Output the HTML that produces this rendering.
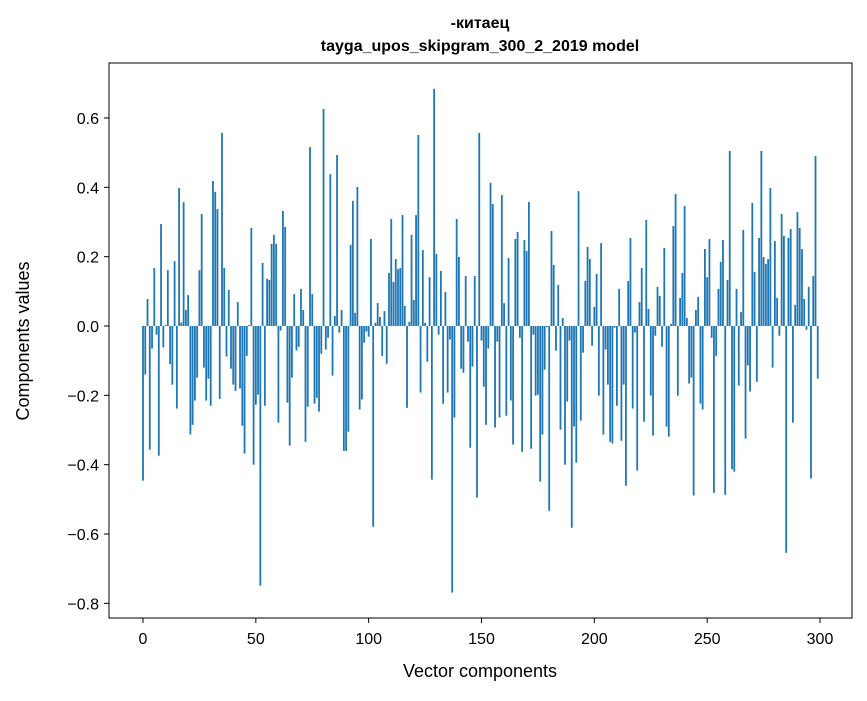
<!DOCTYPE html>
<html><head><meta charset="utf-8"><style>
body{margin:0;background:#fff;}
svg text{font-family:"Liberation Sans","DejaVu Sans",sans-serif;fill:#000;}
</style></head><body>
<svg id="chart" width="867" height="696" viewBox="0 0 867 696" xmlns="http://www.w3.org/2000/svg">
<rect width="867" height="696" fill="#fff"/>
<text x="480" y="28" text-anchor="middle" font-size="16" font-weight="bold">-китаец</text>
<text x="480" y="51" text-anchor="middle" font-size="16" font-weight="bold">tayga_upos_skipgram_300_2_2019 model</text>
<g id="bars"></g>
<g id="xticks"></g>
<g id="yticks"></g>
<rect x="109" y="63" width="743" height="555" fill="none" stroke="#000" stroke-width="1"/>
<text x="480" y="677" text-anchor="middle" font-size="18">Vector components</text>
<text transform="translate(29,341) rotate(-90)" text-anchor="middle" font-size="18">Components values</text>
</svg>
<script>
const values = [
-0.446,-0.14,0.078,-0.357,-0.065,0.167,-0.025,-0.374,0.294,-0.062,
0.003,0.161,-0.11,-0.169,0.187,-0.238,0.398,0.01,0.357,0.046,
0.089,-0.313,-0.285,-0.215,-0.149,0.161,0.323,-0.12,-0.215,-0.152,
-0.23,0.418,0.387,0.337,-0.21,0.557,0.167,-0.088,0.104,-0.123,
-0.169,-0.187,0.069,-0.18,-0.288,-0.368,-0.086,0.003,0.283,-0.4,
-0.227,-0.198,-0.749,0.182,-0.23,0.136,0.133,0.237,0.263,0.237,
-0.279,-0.013,0.332,0.286,-0.221,-0.345,-0.149,0.092,-0.071,-0.06,
0.107,0.046,-0.334,-0.233,0.516,0.092,-0.224,-0.207,-0.247,-0.08,
0.626,-0.068,-0.034,0.438,-0.143,0.029,0.493,-0.019,0.046,-0.36,
-0.36,-0.305,0.234,0.361,0.038,0.401,-0.241,-0.212,-0.048,-0.016,
-0.031,0.251,-0.579,0.009,0.066,0.026,-0.086,0.043,-0.109,0.153,
0.309,0.127,0.193,0.164,0.167,0.32,0.058,-0.236,0.012,0.263,
0.075,0.32,0.551,-0.192,0.219,0.009,-0.103,0.141,-0.443,0.684,
0.208,-0.025,0.159,-0.224,0.098,-0.192,-0.039,-0.769,-0.264,0.309,
0.199,-0.123,-0.135,0.144,-0.045,-0.351,-0.117,0.144,-0.495,0.557,
-0.042,-0.175,-0.285,-0.065,0.413,0.352,-0.293,-0.045,-0.264,0.378,
0.066,-0.259,0.196,-0.215,-0.342,0.251,0.271,-0.034,-0.363,0.248,
0.216,0.358,-0.354,-0.025,-0.201,-0.198,-0.449,-0.313,-0.126,-0.003,
-0.533,0.274,0.176,-0.071,0.118,-0.299,0.023,-0.4,-0.218,-0.042,
-0.582,-0.29,-0.394,0.389,-0.273,-0.077,0.13,0.228,0.193,-0.057,
0.055,0.15,-0.201,0.239,-0.313,-0.068,-0.169,-0.334,-0.339,-0.005,
-0.23,0.107,-0.331,-0.169,-0.461,0.13,0.254,-0.238,-0.019,-0.417,
0.069,0.167,-0.276,0.306,0.049,-0.201,-0.316,-0.028,0.113,0.087,
-0.06,0.225,-0.29,-0.319,0.006,0.288,0.381,-0.201,0.081,0.153,
0.346,0.023,-0.166,-0.149,-0.489,0.046,0.084,-0.224,-0.241,0.222,
0.141,0.251,-0.034,-0.481,-0.086,0.107,0.185,0.248,-0.487,0.133,
0.505,-0.413,-0.42,0.107,-0.172,0.04,0.277,-0.325,-0.114,-0.189,
0.355,0.156,-0.161,0.254,0.505,0.199,0.179,0.193,0.398,-0.12,
0.245,0.081,-0.028,0.323,0.26,-0.654,0.254,0.28,-0.279,0.061,
0.329,0.283,0.222,0.078,-0.011,0.113,-0.44,0.144,0.49,-0.152
];
const xTickValues = [0,50,100,150,200,250,300];
const yTickValues = [0.6,0.4,0.2,0.0,-0.2,-0.4,-0.6,-0.8];
const yTickLabels = ["0.6","0.4","0.2","0.0","\u22120.2","\u22120.4","\u22120.6","\u22120.8"];

const NS = "http://www.w3.org/2000/svg";
function xScale(i){ return 143 + i * 2.2567; }
function yScale(v){ return 326 - v * 346.7; }
const barW = 0.8 * 2.2567;

const gb = document.getElementById('bars');
values.forEach((v, i) => {
  const r = document.createElementNS(NS, 'rect');
  const y0 = yScale(0), y1 = yScale(v);
  r.setAttribute('x', xScale(i) - barW / 2);
  r.setAttribute('y', Math.min(y0, y1));
  r.setAttribute('width', barW);
  r.setAttribute('height', Math.abs(y1 - y0));
  r.setAttribute('fill', '#1f77b4');
  
  
  gb.appendChild(r);
});

const gx = document.getElementById('xticks');
xTickValues.forEach(t => {
  const x = xScale(t);
  const l = document.createElementNS(NS, 'line');
  l.setAttribute('x1', x); l.setAttribute('x2', x);
  l.setAttribute('y1', 618); l.setAttribute('y2', 623);
  l.setAttribute('stroke', '#000');
  
  
  gx.appendChild(l);
  const tx = document.createElementNS(NS, 'text');
  tx.setAttribute('x', x); tx.setAttribute('y', 644);
  tx.setAttribute('text-anchor', 'middle');
  tx.setAttribute('font-size', '16');
  tx.textContent = String(t);
  
  
  gx.appendChild(tx);
});

const gy = document.getElementById('yticks');
yTickValues.forEach((t, k) => {
  const y = yScale(t);
  const l = document.createElementNS(NS, 'line');
  l.setAttribute('x1', 104); l.setAttribute('x2', 109);
  l.setAttribute('y1', y); l.setAttribute('y2', y);
  l.setAttribute('stroke', '#000');
  
  
  gy.appendChild(l);
  const tx = document.createElementNS(NS, 'text');
  tx.setAttribute('x', 99); tx.setAttribute('y', y + 6);
  tx.setAttribute('text-anchor', 'end');
  tx.setAttribute('font-size', '16');
  tx.textContent = yTickLabels[k];
  
  
  gy.appendChild(tx);
});
</script>
</body></html>
